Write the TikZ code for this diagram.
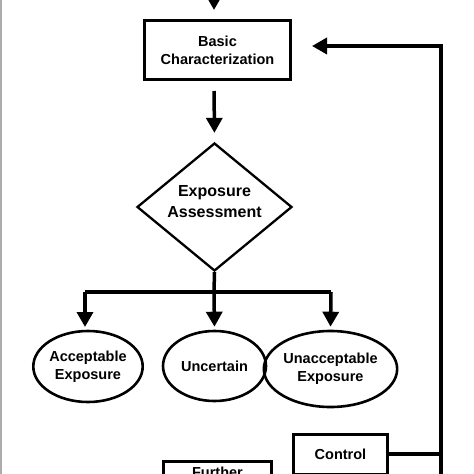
\documentclass[tikz,border=0pt]{standalone}
\usepackage{fontspec}
\setmainfont{Liberation Sans}
\usetikzlibrary{arrows.meta,shapes.geometric}
\tikzset{
  box/.style={draw, line width=3pt, rectangle, inner sep=0pt, align=center, font=\bfseries\fontsize{14.5}{18}\selectfont},
  oval/.style={draw, line width=2.6pt, ellipse, inner sep=0pt, align=center, font=\bfseries\fontsize{14.5}{18}\selectfont},
  dia/.style={draw, line width=2.3pt, diamond, inner sep=0pt, align=center, font=\bfseries\fontsize{16}{21}\selectfont},
  conn/.style={line width=3.5pt},
  arr/.style={conn, -{Triangle[length=15pt, width=16pt]}},
}
\begin{document}
\begin{tikzpicture}[x=1pt, y=-1pt]
\useasboundingbox (0,0) rectangle (474,474);
\clip (0,0) rectangle (474,474);
\fill[white] (0,0) rectangle (474,474);
\draw[gray!65, line width=2pt] (1,0) -- (1,474);

\node[box, minimum width=146pt, minimum height=59pt] (bc) at (217.5,50) {Basic\\Characterization};
\node[dia, minimum width=155pt, minimum height=128pt, aspect=1.21] (ea) at (214.5,207) {Exposure\\Assessment\\[-10pt]\mbox{}};
\node[oval, minimum width=108pt, minimum height=71pt] (e1) at (88,366.5) {Acceptable\\Exposure};
\node[oval, minimum width=103pt, minimum height=70pt] (e2) at (214.5,366) {Uncertain};
\node[oval, minimum width=115pt, minimum height=76pt] (e3) at (330.5,369) {Unacceptable\\Exposure};
\node[box, minimum width=94pt, minimum height=40pt] (ctl) at (340.5,454) {Control};
\node[box, minimum width=108pt, minimum height=40pt, anchor=north] (fu) at (217.5,460) {Further\\\mbox{}};

\coordinate (top) at (214,0);
\coordinate (j) at (214,292);
\coordinate (fb) at (441,480);

\draw[arr, shorten >=9pt] (top) -- (bc.north -| top);
\draw[arr, shorten <=10pt, shorten >=9pt] (bc.south -| top) -- (ea.north);
\draw[conn] (ea.south) -- (j);
\draw[conn] (85,292) -- (331,292);
\draw[arr, shorten >=3pt] (j) -- (e2.north);
\draw[arr, shorten >=3pt] (85,292) -- (85,330);
\draw[arr, shorten >=3pt] (331,292) -- (e3.north);
\draw[conn] (ctl.east) -- (ctl.east -| fb);
\draw[arr, shorten >=20pt] (fb) |- ([yshift=4pt]bc.east);
\end{tikzpicture}
\end{document}
